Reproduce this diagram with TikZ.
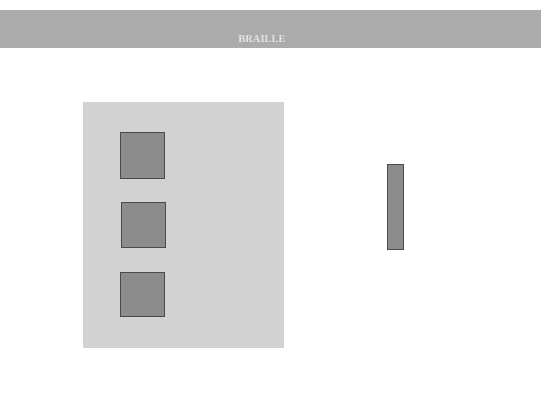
\documentclass[tikz,border=0pt]{standalone}
\usepackage{fontspec}
\setmainfont{Liberation Serif}
\definecolor{barcol}{HTML}{ABABAB}
\definecolor{panelcol}{HTML}{D2D2D2}
\definecolor{dotcol}{HTML}{8C8C8C}
\definecolor{dotedge}{HTML}{4A4A4A}
\begin{document}
\begin{tikzpicture}[x=1pt,y=-1pt,
  dotbox/.style={draw=dotedge,fill=dotcol,line width=0.8pt},
  panel/.style={fill=panelcol,draw=none},
  titlebar/.style={fill=barcol,draw=none}]
\useasboundingbox (0,0) rectangle (541,406);
\fill[white] (0,0) rectangle (541,406);
\fill[titlebar] (0,10) rectangle (541,48);
\node[text=white!90!black,font=\bfseries\fontsize{10.5}{12}\selectfont,inner sep=0pt] (title) at (262,39.5) {BRAILLE};
\fill[panel] (83,102) rectangle (284,348);
\draw[dotbox] (120,132) rectangle (164,178);
\draw[dotbox] (121,202) rectangle (165,247);
\draw[dotbox] (120,272) rectangle (164,316);
\draw[dotbox] (387,164) rectangle (403,249);
\end{tikzpicture}
\end{document}
